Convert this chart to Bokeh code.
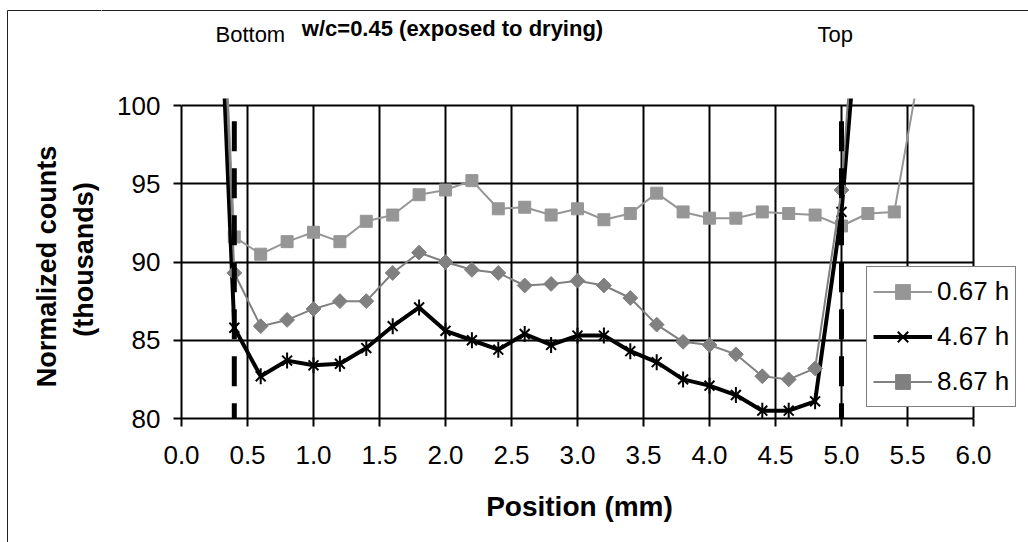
import numpy as np
from bokeh.plotting import figure
from bokeh.layouts import column, row
from bokeh.models import Range1d, FixedTicker, PrintfTickFormatter, Label
from bokeh.embed import file_html
from bokeh.resources import INLINE

# Position along the specimen (mm)
pos_067 = [0.2, 0.4, 0.6, 0.8, 1.0, 1.2, 1.4, 1.6, 1.8, 2.0, 2.2, 2.4, 2.6, 2.8,
           3.0, 3.2, 3.4, 3.6, 3.8, 4.0, 4.2, 4.4, 4.6, 4.8, 5.0, 5.2, 5.4, 5.6]
pos_467 = [0.2, 0.4, 0.6, 0.8, 1.0, 1.2, 1.4, 1.6, 1.8, 2.0, 2.2, 2.4, 2.6, 2.8,
           3.0, 3.2, 3.4, 3.6, 3.8, 4.0, 4.2, 4.4, 4.6, 4.8, 5.0, 5.2]
pos_867 = [0.2, 0.4, 0.6, 0.8, 1.0, 1.2, 1.4, 1.6, 1.8, 2.0, 2.2, 2.4, 2.6, 2.8,
           3.0, 3.2, 3.4, 3.6, 3.8, 4.0, 4.2, 4.4, 4.6, 4.8, 5.0, 5.2]

# Normalized counts (thousands)
counts_067 = [128.0, 91.6, 90.5, 91.3, 91.9, 91.3, 92.6, 93.0, 94.3, 94.6, 95.2, 93.4, 93.5, 93.0,
              93.4, 92.7, 93.1, 94.4, 93.2, 92.8, 92.8, 93.2, 93.1, 93.0, 92.3, 93.1, 93.2, 102.7]
counts_467 = [126.0, 85.8, 82.7, 83.7, 83.4, 83.5, 84.5, 85.9, 87.1, 85.6, 85.0, 84.4, 85.4, 84.7,
              85.3, 85.3, 84.3, 83.6, 82.5, 82.1, 81.5, 80.5, 80.5, 81.1, 93.2, 113.5]
counts_867 = [131.0, 89.3, 85.9, 86.3, 87.0, 87.5, 87.5, 89.3, 90.6, 90.0, 89.5, 89.3, 88.5, 88.6,
              88.8, 88.5, 87.7, 86.0, 84.9, 84.7, 84.1, 82.7, 82.5, 83.2, 94.6, 118.0]

# Specimen boundaries (bottom / top surface)
boundary_x = [0.4, 5.0]
boundary_y = [99.0, 80.0]

x_ticks = [0.0, 0.5, 1.0, 1.5, 2.0, 2.5, 3.0, 3.5, 4.0, 4.5, 5.0, 5.5, 6.0]
y_ticks = [80, 85, 90, 95, 100]
x_lo, x_hi = 0.0, 6.0
y_lo, y_hi = 80.0, 100.0

FONT = "Liberation Sans"

# page geometry (pixels)
W, H = 1028, 542
FRAME_L = 181      # x = 0 line
FRAME_T = 98       # plotting area starts a little above the 100 line
FRAME_B = 418      # y = 80 line
HEAD_H = 85        # band above the chart body
STRIP_W = 101      # band left of the chart body
FOOT_T = 478       # band below the tick labels
PX_X = 132.0       # pixels per mm
PX_Y = 15.65       # pixels per thousand counts
BORDER = "#202020"


def vx(px):
    """page x pixel -> position value"""
    return (px - FRAME_L) / PX_X


def vy(py):
    """page y pixel -> counts value"""
    return y_lo + (FRAME_B - py) / PX_Y


def bare(width, height, xr, yr):
    f = figure(width=width, height=height, x_range=xr, y_range=yr,
               x_axis_location=None, y_axis_location=None,
               output_backend="svg", toolbar_location=None, frame_align=False,
               min_border=0, min_border_left=0, min_border_right=0,
               min_border_top=0, min_border_bottom=0)
    f.title.visible = False
    f.outline_line_color = None
    for g in f.grid:
        g.visible = False
    return f


# ---- left band: y title and chart border ----
side = bare(STRIP_W, H, Range1d(vx(0), vx(STRIP_W)), Range1d(vy(H), vy(0)))
side.segment(x0=[vx(7), vx(7)], y0=[vy(10), vy(10)], x1=[vx(STRIP_W + 5), vx(7)],
             y1=[vy(10), vy(H + 5)], line_color=BORDER, line_width=1)
side.add_layout(Label(x=vx(46), y=vy(266), text="Normalized counts",
                      angle=np.pi / 2, text_align="center", text_baseline="middle",
                      text_font=FONT, text_font_style="bold", text_font_size="27px",
                      text_color="black"))
side.add_layout(Label(x=vx(83), y=vy(259), text="(thousands)",
                      angle=np.pi / 2, text_align="center", text_baseline="middle",
                      text_font=FONT, text_font_style="bold", text_font_size="27px",
                      text_color="black"))

# ---- header: title, surface names, chart border ----
head = bare(W - STRIP_W, HEAD_H, Range1d(vx(STRIP_W), vx(W)), Range1d(vy(HEAD_H), vy(0)))
head.segment(x0=[vx(STRIP_W - 5)], y0=[vy(10)], x1=[vx(W + 5)], y1=[vy(10)],
             line_color=BORDER, line_width=1)
head.add_layout(Label(x=vx(452), y=vy(40), text="w/c=0.45 (exposed to drying)",
                      text_align="center", text_font=FONT, text_font_style="bold",
                      text_font_size="22px", text_color="black"))
head.add_layout(Label(x=vx(215), y=vy(46), text="Bottom", text_font=FONT,
                      text_font_size="22px", text_color="black"))
head.add_layout(Label(x=vx(817), y=vy(46), text="Top", text_font=FONT,
                      text_font_size="22px", text_color="black"))

# ---- main chart ----
p = figure(width=W - STRIP_W, height=FOOT_T - HEAD_H,
           x_range=Range1d(x_lo, vx(W)), y_range=Range1d(y_lo, vy(FRAME_T)),
           output_backend="svg", toolbar_location=None, frame_align=False,
           min_border_left=FRAME_L - STRIP_W, min_border_right=0,
           min_border_top=FRAME_T - HEAD_H, min_border_bottom=FOOT_T - FRAME_B)
p.title.visible = False
p.outline_line_color = None

for ax in (p.xaxis[0], p.yaxis[0]):
    ax.axis_line_color = "black"
    ax.axis_line_width = 2
    ax.major_tick_line_color = "black"
    ax.major_tick_line_width = 2
    ax.major_tick_out = 8
    ax.major_tick_in = 0
    ax.minor_tick_line_color = None
    ax.major_label_text_font = FONT
    ax.major_label_text_font_size = "26px"
    ax.major_label_text_color = "black"

p.xaxis.ticker = FixedTicker(ticks=x_ticks)
p.xaxis.formatter = PrintfTickFormatter(format="%.1f")
p.xaxis.bounds = (x_lo, x_hi)
p.xaxis.major_label_standoff = 19

p.yaxis.ticker = FixedTicker(ticks=y_ticks)
p.yaxis.bounds = (y_lo, y_hi)
p.yaxis.major_label_standoff = 13

p.xgrid.ticker = FixedTicker(ticks=x_ticks)
p.ygrid.ticker = FixedTicker(ticks=y_ticks)
p.xgrid.cross_bounds = (y_lo, y_hi)
p.ygrid.cross_bounds = (x_lo, x_hi)
for g in (p.xgrid[0], p.ygrid[0]):
    g.grid_line_color = "black"
    g.grid_line_width = 2

# series
p.line(pos_067, counts_067, line_color="#969696", line_width=2, legend_label="0.67 h")
p.scatter(pos_067, counts_067, marker="square", size=12, fill_color="#969696",
          line_color="#969696", legend_label="0.67 h")

p.line(pos_467, counts_467, line_color="black", line_width=4, legend_label="4.67 h")
p.scatter(pos_467, counts_467, marker="x", size=14, line_color="black", line_width=2,
          legend_label="4.67 h")
p.scatter(pos_467, counts_467, marker="dash", angle=np.pi / 2, size=16, line_color="black",
          line_width=2, legend_label="4.67 h")

p.line(pos_867, counts_867, line_color="#808080", line_width=2, legend_label="8.67 h")
p.scatter(pos_867, counts_867, marker="square", angle=np.pi / 4, size=10.5,
          fill_color="#808080", line_color="#808080", legend_label="8.67 h")

# boundary markers
p.multi_line([[bx, bx] for bx in boundary_x], [boundary_y for _ in boundary_x],
             line_color="black", line_width=5, line_dash="30 17")

# legend
lg = p.legend[0]
lg.location = (685, 11)
lg.margin = 0
lg.padding = 6
lg.spacing = 8
lg.glyph_width = 59
lg.glyph_height = 37
lg.label_height = 37
lg.label_standoff = 5
lg.label_text_font = FONT
lg.label_text_font_size = "26px"
lg.label_text_color = "black"
lg.border_line_color = "black"
lg.border_line_width = 1
lg.background_fill_color = "white"
lg.background_fill_alpha = 1.0

# ---- footer: x title ----
foot = bare(W - STRIP_W, H - FOOT_T, Range1d(vx(STRIP_W), vx(W)), Range1d(vy(H), vy(FOOT_T)))
foot.add_layout(Label(x=vx(579), y=vy(521), text="Position (mm)", text_align="center",
                      text_font=FONT, text_font_style="bold", text_font_size="28px",
                      text_color="black"))

layout = row(side, column(head, p, foot, spacing=0), spacing=0)

open("out.html", "w").write(file_html(layout, INLINE))
